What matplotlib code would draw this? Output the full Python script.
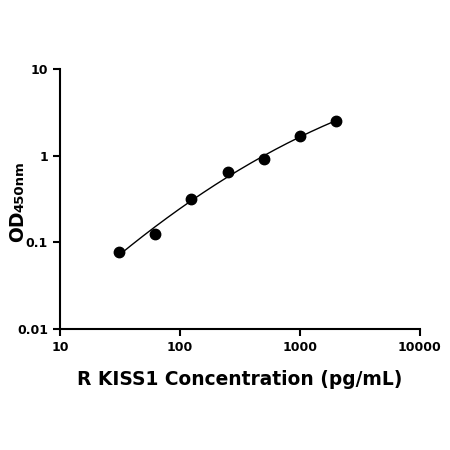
import numpy as np
import matplotlib.pyplot as plt

# standard curve: concentration (pg/mL) vs OD450
conc = [31.25, 62.5, 125, 250, 500, 1000, 2000]
od = [0.078, 0.126, 0.313, 0.643, 0.916, 1.69, 2.49]

x_ticks = [10, 100, 1000, 10000]
x_labels = ["10", "100", "1000", "10000"]
y_ticks = [0.01, 0.1, 1, 10]
y_labels = ["0.01", "0.1", "1", "10"]

plt.rcParams['font.family'] = 'DejaVu Sans'
plt.rcParams['font.weight'] = 'bold'

fig = plt.figure(figsize=(4.5, 4.5), dpi=100)
ax = fig.add_axes([0.133, 0.269, 0.8, 0.578])

# smooth fit in log-log space
lx, ly = np.log10(conc), np.log10(od)
p = np.polyfit(lx, ly, 2)
xf = np.linspace(lx[0], lx[-1], 200)
ax.plot(10**xf, 10**np.polyval(p, xf), color='black', lw=1)
ax.plot(conc, od, 'o', color='black', ms=7.5)

ax.set_xscale('log')
ax.set_yscale('log')
ax.set_xlim(10, 10000)
ax.set_ylim(0.01, 10)
ax.set_xticks(x_ticks, x_labels)
ax.set_yticks(y_ticks, y_labels)
ax.minorticks_off()
ax.tick_params(width=1.5, length=5, labelsize=9)
for lab in ax.get_xticklabels() + ax.get_yticklabels():
    lab.set_fontweight('bold')
for s in ['top', 'right']:
    ax.spines[s].set_visible(False)
for s in ['left', 'bottom']:
    ax.spines[s].set_linewidth(1.5)

ax.set_xlabel('R KISS1 Concentration (pg/mL)', fontsize=13.4, fontweight='bold', labelpad=12)

# y label: "OD" with smaller "450nm" on the same baseline
fig.text(23 / 450, 1 - 242 / 450, 'OD', rotation=90, rotation_mode='anchor',
         ha='left', va='baseline', fontsize=13.5, fontweight='bold')
fig.text(23 / 450, 1 - 212 / 450, '450nm', rotation=90, rotation_mode='anchor',
         ha='left', va='baseline', fontsize=9.5, fontweight='bold')

fig.savefig('out.png', dpi=100)
